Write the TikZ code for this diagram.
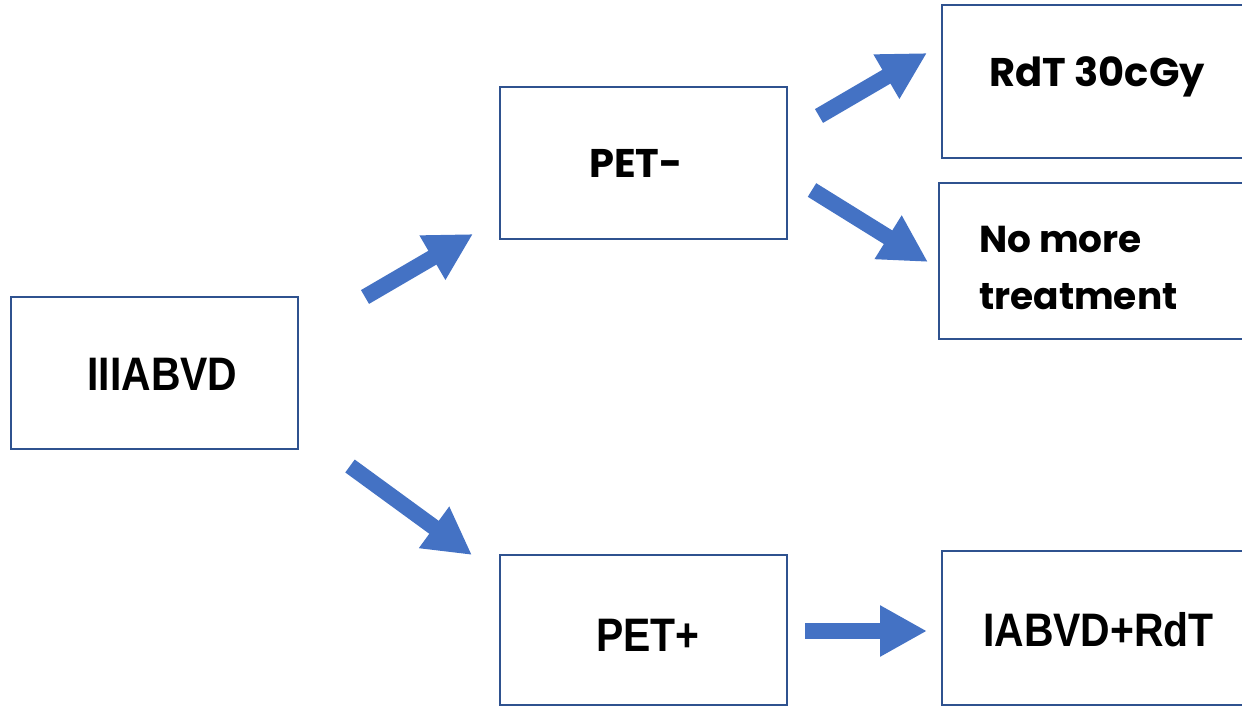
\documentclass[tikz,border=0pt]{standalone}
\usepackage{fontspec}
\setmainfont{Liberation Sans}
\newfontfamily\condf{Liberation Sans}[FakeStretch=0.87]
\newfontfamily\roundf{Poppins}
\usetikzlibrary{arrows.meta}
\definecolor{boxblue}{HTML}{2F528F}
\definecolor{arrblue}{HTML}{4472C4}
\tikzset{
  box/.style={draw=boxblue, line width=2.2pt, fill=white, inner sep=0pt},
  ctxt/.style={font=\condf\bfseries\fontsize{47}{56}\selectfont, inner sep=0pt, text=black},
  rtxt/.style={font=\roundf\bfseries\fontsize{40}{57}\selectfont, inner sep=0pt, text=black, align=left},
  barrow/.style={draw=arrblue, line width=16pt, -{Triangle[length=47pt,width=48pt]}, arrblue},
}
\begin{document}
\begin{tikzpicture}[x=1pt,y=-1pt]
\useasboundingbox (0,0) rectangle (1242,707);
\clip (0,0) rectangle (1242,707);
% boxes
\node[box, minimum width=287pt, minimum height=152pt] (a) at (154.5,373) {};
\node[box, minimum width=287pt, minimum height=152pt] (b) at (643.5,163) {};
\node[box, minimum width=287pt, minimum height=150pt] (c) at (643.5,630) {};
\node[box, minimum width=308pt, minimum height=153pt] (d) at (1096,81.5) {};
\node[box, minimum width=311pt, minimum height=156pt] (e) at (1094.5,261) {};
\node[box, minimum width=308pt, minimum height=154pt] (f) at (1096,628) {};
% texts
\node[ctxt] (at) at (162.5,374) {IIIABVD};
\node[rtxt] (bt) at (636,163) {PET-};
\node[ctxt] (ct) at (648,635) {PET+};
\node[rtxt, anchor=west] (dt) at (989,77) {RdT 30cGy};
\node[rtxt, anchor=west, font=\roundf\bfseries\fontsize{37.5}{57}\selectfont] (et) at (979,268) {No more\\treatment};
\node[ctxt, anchor=west] (ft) at (983,630) {IABVD+RdT};
% arrow ends
\coordinate (a1s) at (365,297); \coordinate (a1e) at (473,234);
\coordinate (a2s) at (350,466); \coordinate (a2e) at (472,555);
\coordinate (a3s) at (819,116); \coordinate (a3e) at (927,53);
\coordinate (a4s) at (812,190); \coordinate (a4e) at (928,262);
\coordinate (a5s) at (805,631); \coordinate (a5e) at (927,631);
\draw[barrow] (a1s) -- (a1e);
\draw[barrow] (a2s) -- (a2e);
\draw[barrow] (a3s) -- (a3e);
\draw[barrow] (a4s) -- (a4e);
\draw[barrow] (a5s) -- (a5e);
\end{tikzpicture}
\end{document}
